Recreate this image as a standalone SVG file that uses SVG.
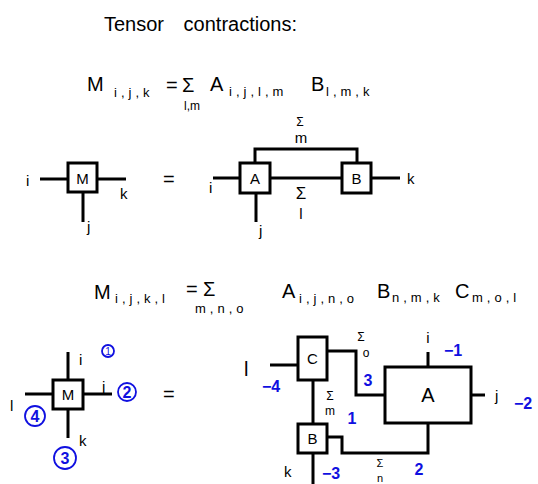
<svg xmlns="http://www.w3.org/2000/svg" width="538" height="484" viewBox="0 0 538 484">
<style>
text{font-family:"Liberation Sans","DejaVu Sans",sans-serif;fill:#000}
.t{font-size:20px;word-spacing:14px}
.big{font-size:20px}
.sub{font-size:13px;letter-spacing:4px}
.subs{font-size:12px}
.lbl{font-size:15px}
.sig{font-size:12px}
.blue{fill:#1010e0;font-weight:bold;font-size:16px}
.box{fill:#fff;stroke:#000;stroke-width:3}
.w{fill:none;stroke:#000;stroke-width:3;stroke-linejoin:miter}
.circ{fill:none;stroke:#1010e0;stroke-width:1.8}
</style>
<rect width="538" height="484" fill="#fff"/>
<text class="t" x="104" y="31">Tensor contractions:</text>

<g id="eq1">
<text class="big" x="87" y="91">M</text>
<text class="sub" x="114" y="97">i,j,k</text>
<text class="big" x="166" y="92">=</text>
<text class="big" x="182" y="92">Σ</text>
<text class="subs" x="184" y="110">l,m</text>
<text class="big" x="210" y="91">A</text>
<text class="sub" x="229" y="96">i,j,l,m</text>
<text class="big" x="311" y="91">B</text>
<text class="sub" x="326" y="96">l,m,k</text>
</g>

<g id="connectors1">
<path class="w" d="M40 179H68M97 179H126M83 192V222"/>
<path class="w" d="M213 178H240M256 193V222M255 163V149H357V163M270 178H342M371 178H400"/>
</g>
<g id="nodeM1"><rect class="box" x="68" y="163" width="29" height="29"/><text class="lbl" x="82.5" y="184" text-anchor="middle">M</text></g>
<g id="nodeA1"><rect class="box" x="240" y="163" width="30" height="30"/><text class="lbl" x="255" y="184" text-anchor="middle">A</text></g>
<g id="nodeB1"><rect class="box" x="342" y="163" width="29" height="30"/><text class="lbl" x="356.5" y="184" text-anchor="middle">B</text></g>
<g id="labels1">
<text class="lbl" x="26" y="186">i</text>
<text class="lbl" x="120" y="199">k</text>
<text class="lbl" x="87" y="232">j</text>
<text class="big" x="163" y="186">=</text>
<text class="lbl" x="209" y="193">i</text>
<text class="lbl" x="259" y="236">j</text>
<text class="lbl" x="407" y="184">k</text>
<text class="sig" x="300" y="126" text-anchor="middle">Σ</text>
<text class="lbl" x="301" y="143" text-anchor="middle">m</text>
<text class="lbl" x="301" y="199" text-anchor="middle" style="font-size:17px">Σ</text>
<text class="lbl" x="301" y="219" text-anchor="middle">l</text>
</g>

<g id="eq2">
<text class="big" x="94" y="299">M</text>
<text class="sub" x="115" y="303">i,j,k,l</text>
<text class="big" x="186" y="296">=</text>
<text class="big" x="203" y="296">Σ</text>
<text class="sub" x="195" y="313">m,n,o</text>
<text class="big" x="282" y="298">A</text>
<text class="sub" x="299" y="303">i,j,n,o</text>
<text class="big" x="377" y="298">B</text>
<text class="sub" x="392" y="302">n,m,k</text>
<text class="big" x="455" y="298">C</text>
<text class="sub" x="472" y="302">m,o,l</text>
</g>

<g id="connectors2">
<path class="w" d="M25 394H53M83 394H112M68 352V380M68 409V438"/>
<path class="w" d="M270 365H298M327 351H356V395H385M428 367V352M471 395H485M428 423V453H342V437H327M313 380V424M313 453V484"/>
</g>
<g id="nodeM2"><rect class="box" x="53" y="380" width="30" height="29"/><text class="lbl" x="68" y="400" text-anchor="middle">M</text></g>
<g id="nodeC"><rect class="box" x="298" y="337" width="29" height="43"/><text class="lbl" x="312.5" y="364" text-anchor="middle">C</text></g>
<g id="nodeA2"><rect class="box" x="385" y="367" width="86" height="56"/><text class="big" x="428" y="402" text-anchor="middle">A</text></g>
<g id="nodeB2"><rect class="box" x="298" y="424" width="29" height="29"/><text class="lbl" x="312.5" y="444" text-anchor="middle">B</text></g>

<g id="labels2">
<text class="lbl" x="79" y="365">i</text>
<text class="lbl" x="102" y="392">j</text>
<text class="lbl" x="10" y="411">l</text>
<text class="lbl" x="79" y="446">k</text>
<circle class="circ" cx="108" cy="351" r="6"/><text class="blue" x="108" y="355" text-anchor="middle" style="font-size:10px;font-weight:normal">1</text>
<circle class="circ" cx="127" cy="392" r="9"/><text class="blue" x="127" y="398" text-anchor="middle">2</text>
<circle class="circ" cx="35" cy="416" r="10"/><text class="blue" x="35" y="422" text-anchor="middle">4</text>
<circle class="circ" cx="65" cy="458" r="11"/><text class="blue" x="65" y="464" text-anchor="middle">3</text>
<text class="big" x="163" y="401">=</text>

<text class="big" x="244" y="376">l</text>
<text class="blue" x="262" y="392">−4</text>
<text class="sig" x="361" y="341" text-anchor="middle">Σ</text>
<text class="subs" x="366" y="357" text-anchor="middle">o</text>
<text class="blue" x="368" y="386" text-anchor="middle">3</text>
<text class="lbl" x="428" y="343" text-anchor="middle">i</text>
<text class="blue" x="444" y="356">−1</text>
<text class="lbl" x="495" y="401">j</text>
<text class="blue" x="514" y="409">−2</text>
<text class="sig" x="330" y="400" text-anchor="middle">Σ</text>
<text class="subs" x="330" y="415" text-anchor="middle">m</text>
<text class="blue" x="352" y="424" text-anchor="middle">1</text>
<text class="lbl" x="284" y="477">k</text>
<text class="blue" x="322" y="479">−3</text>
<text class="sig" x="380" y="467" text-anchor="middle" style="font-size:11px">Σ</text>
<text class="subs" x="380" y="482" text-anchor="middle" style="font-size:11px">n</text>
<text class="blue" x="419" y="475" text-anchor="middle">2</text>
</g>
</svg>
